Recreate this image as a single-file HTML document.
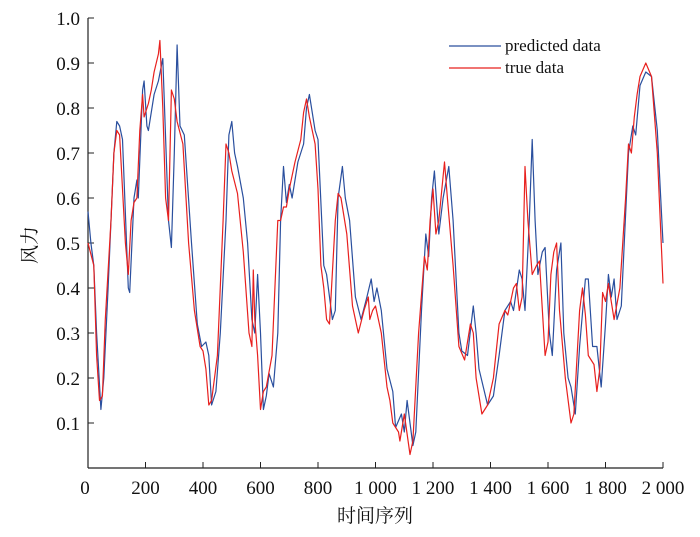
<!DOCTYPE html>
<html><head><meta charset="utf-8"><style>
body{margin:0;background:#fff;width:700px;height:532px;overflow:hidden}
text{font-family:"Liberation Serif","Noto Serif CJK SC",serif;fill:#111}
</style></head><body>
<svg id="chart" width="700" height="532" xmlns="http://www.w3.org/2000/svg">
<g id="axes"></g>
<g id="series"></g>
<g>
<line x1="449" y1="46" x2="501" y2="46" stroke="#2a4f9e" stroke-width="1.3"/>
<text x="505" y="51" font-size="17">predicted data</text>
<line x1="449" y1="68" x2="501" y2="68" stroke="#e8201e" stroke-width="1.3"/>
<text x="505" y="73" font-size="17">true data</text>
</g>
<text x="375" y="522" font-size="19" text-anchor="middle">时间序列</text>
<text transform="translate(36,245) rotate(-90)" font-size="19" text-anchor="middle">风力</text>
</svg>
<script>
const xTicks=[0,200,400,600,800,1000,1200,1400,1600,1800,2000];
const xTickLabels=["0","200","400","600","800","1 000","1 200","1 400","1 600","1 800","2 000"];
const yTicks=[0.1,0.2,0.3,0.4,0.5,0.6,0.7,0.8,0.9,1.0];
const yTickLabels=["0.1","0.2","0.3","0.4","0.5","0.6","0.7","0.8","0.9","1.0"];
const trueIdx=[0,20,30,40,50,60,80,90,100,110,130,140,150,160,170,180,190,195,210,220,230,245,250,260,270,280,290,300,310,330,350,370,390,400,410,420,430,450,470,480,490,500,520,540,560,570,575,580,590,600,610,620,640,660,670,680,690,700,720,740,750,760,770,790,800,810,820,830,840,860,870,880,900,920,940,960,975,980,990,1000,1020,1040,1050,1060,1080,1085,1100,1120,1130,1150,1170,1180,1190,1200,1210,1220,1240,1250,1270,1290,1310,1330,1340,1350,1370,1390,1410,1430,1450,1460,1480,1490,1500,1510,1520,1530,1545,1560,1570,1590,1600,1610,1620,1630,1640,1660,1680,1690,1710,1720,1730,1740,1760,1770,1780,1790,1800,1810,1830,1850,1870,1880,1890,1900,1910,1920,1940,1960,1980,2000];
const trueVals=[0.50,0.45,0.25,0.15,0.16,0.33,0.55,0.70,0.75,0.74,0.50,0.43,0.55,0.59,0.60,0.75,0.83,0.78,0.81,0.84,0.88,0.92,0.95,0.80,0.60,0.55,0.84,0.82,0.77,0.72,0.50,0.35,0.27,0.26,0.22,0.14,0.15,0.25,0.55,0.72,0.70,0.66,0.61,0.48,0.30,0.27,0.44,0.33,0.25,0.13,0.17,0.18,0.25,0.55,0.55,0.58,0.58,0.62,0.68,0.73,0.79,0.82,0.78,0.72,0.62,0.45,0.40,0.33,0.32,0.55,0.61,0.60,0.52,0.36,0.30,0.35,0.38,0.33,0.35,0.36,0.30,0.18,0.15,0.10,0.08,0.06,0.12,0.03,0.06,0.30,0.47,0.44,0.55,0.62,0.52,0.55,0.68,0.60,0.45,0.27,0.24,0.32,0.30,0.20,0.12,0.14,0.20,0.32,0.35,0.34,0.40,0.41,0.35,0.38,0.67,0.55,0.43,0.45,0.46,0.25,0.28,0.43,0.48,0.50,0.35,0.20,0.10,0.12,0.35,0.40,0.34,0.25,0.23,0.17,0.22,0.39,0.37,0.41,0.33,0.40,0.60,0.72,0.70,0.78,0.83,0.87,0.90,0.87,0.70,0.41];
const predIdx=[0,10,20,30,45,55,70,90,100,110,120,140,145,160,170,175,190,195,205,210,230,245,260,280,290,300,310,320,335,360,380,395,410,420,430,445,460,480,490,500,510,520,540,555,570,580,590,600,610,620,630,645,660,670,680,690,700,710,730,750,760,770,790,800,820,830,850,860,870,885,895,910,930,950,970,985,995,1005,1020,1040,1060,1070,1090,1100,1110,1130,1140,1160,1175,1185,1195,1205,1220,1235,1255,1270,1290,1300,1320,1340,1350,1360,1375,1390,1410,1430,1450,1470,1480,1500,1510,1520,1535,1545,1555,1565,1580,1590,1605,1615,1630,1645,1655,1670,1680,1695,1710,1730,1740,1755,1770,1785,1800,1810,1820,1830,1840,1855,1880,1895,1905,1920,1940,1960,1980,2000];
const predVals=[0.57,0.50,0.45,0.30,0.13,0.20,0.40,0.70,0.77,0.76,0.73,0.40,0.39,0.60,0.64,0.60,0.84,0.86,0.76,0.75,0.83,0.86,0.91,0.55,0.49,0.70,0.94,0.76,0.74,0.50,0.32,0.27,0.28,0.25,0.14,0.17,0.30,0.55,0.74,0.77,0.70,0.67,0.60,0.50,0.33,0.30,0.43,0.30,0.13,0.16,0.21,0.18,0.30,0.55,0.67,0.59,0.63,0.60,0.68,0.72,0.80,0.83,0.75,0.73,0.45,0.43,0.33,0.35,0.60,0.67,0.60,0.55,0.38,0.33,0.38,0.42,0.37,0.40,0.35,0.22,0.17,0.09,0.12,0.08,0.15,0.05,0.08,0.35,0.52,0.47,0.60,0.66,0.52,0.60,0.67,0.55,0.30,0.26,0.25,0.36,0.30,0.22,0.18,0.14,0.16,0.25,0.35,0.37,0.35,0.44,0.42,0.35,0.55,0.73,0.55,0.43,0.48,0.49,0.30,0.25,0.44,0.50,0.30,0.20,0.18,0.12,0.27,0.42,0.42,0.27,0.27,0.18,0.32,0.43,0.38,0.42,0.33,0.36,0.70,0.76,0.74,0.85,0.88,0.87,0.75,0.50];
const X0=88,X1=663,Y0=468,Y1=18;
const xs=v=>X0+(v/2000)*(X1-X0);
const ys=v=>Y0-v*(Y0-Y1);
const NS="http://www.w3.org/2000/svg";
const axes=document.getElementById('axes');
function mk(tag,attrs,parent){const e=document.createElementNS(NS,tag);for(const k in attrs)e.setAttribute(k,attrs[k]);parent.appendChild(e);return e;}
let a=mk('line',{x1:X0,y1:Y0,x2:X1,y2:Y0,stroke:'#222','stroke-width':1.2},axes);


a=mk('line',{x1:X0,y1:Y0,x2:X0,y2:Y1,stroke:'#222','stroke-width':1.2},axes);


xTicks.forEach((t,i)=>{
 const l=mk('line',{x1:xs(t),y1:Y0,x2:xs(t),y2:Y0-6,stroke:'#222','stroke-width':1},axes);
 
 
 const tx=mk('text',{x:xs(t)+(i==0?-3:0),y:Y0+26,'font-size':19,'text-anchor':'middle'},axes);
 tx.textContent=xTickLabels[i];
 
 
});
yTicks.forEach((t,i)=>{
 const l=mk('line',{x1:X0,y1:ys(t),x2:X0+6,y2:ys(t),stroke:'#222','stroke-width':1},axes);
 
 
 const tx=mk('text',{x:X0-8,y:ys(t)+7,'font-size':19,'text-anchor':'end'},axes);
 tx.textContent=yTickLabels[i];
 
 
});
const ser=document.getElementById('series');
function path(idx,vals,color){return mk('path',{d:idx.map((t,i)=>(i?'L':'M')+xs(t).toFixed(1)+','+ys(vals[i]).toFixed(1)).join(''),fill:'none',stroke:color,'stroke-width':1.2,'stroke-linejoin':'round'},ser);}
const p1=path(predIdx,predVals,'#2a4f9e');


const p2=path(trueIdx,trueVals,'#e8201e');


</script>
</body></html>
